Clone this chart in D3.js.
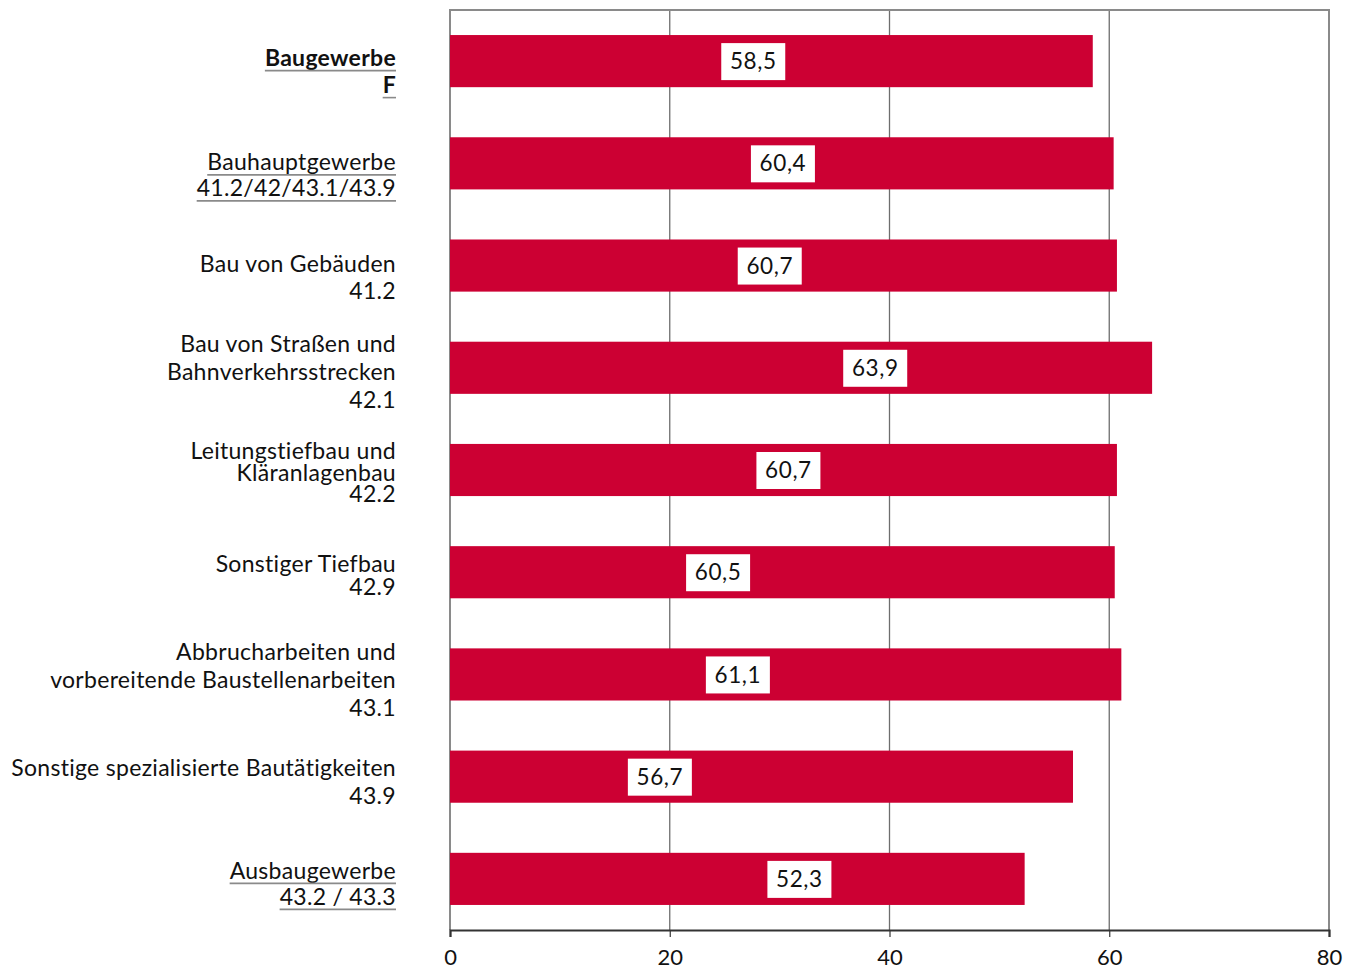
<!DOCTYPE html>
<html><head><meta charset="utf-8">
<script src="https://cdn.jsdelivr.net/npm/d3@7"></script>
<style>body{margin:0;background:#fff}svg text{font-family:Lato, "Noto Sans", sans-serif;}</style>
</head><body><svg id="c" width="1356" height="971"></svg>
<script>
// ---- data ----
const categories = [
  ["Baugewerbe", "F"],
  ["Bauhauptgewerbe", "41.2/42/43.1/43.9"],
  ["Bau von Gebäuden", "41.2"],
  ["Bau von Straßen und", "Bahnverkehrsstrecken", "42.1"],
  ["Leitungstiefbau und", "Kläranlagenbau", "42.2"],
  ["Sonstiger Tiefbau", "42.9"],
  ["Abbrucharbeiten und", "vorbereitende Baustellenarbeiten", "43.1"],
  ["Sonstige spezialisierte Bautätigkeiten", "43.9"],
  ["Ausbaugewerbe", "43.2 / 43.3"]
];
const values = [58.5, 60.4, 60.7, 63.9, 60.7, 60.5, 61.1, 56.7, 52.3];
const valueLabels = ["58,5", "60,4", "60,7", "63,9", "60,7", "60,5", "61,1", "56,7", "52,3"];
// where the value boxes sit along the bar, in axis units (as in the original)
const labelAt = [27.6, 30.3, 29.1, 38.7, 30.8, 24.4, 26.2, 19.1, 31.8];
const xTicks = [0, 20, 40, 60, 80];

// ---- layout / style ----
const L = 450, R = 1329, T = 10, B = 930;
const styleCfg = [
  {bold:true, underline:true, lh:27, off:-3},
  {underline:true, lh:26, off:-1},
  {lh:27, off:-2},
  {lh:28, off:-24},
  {lh:21.5, off:-19},
  {lh:23, off:-8},
  {lh:28, off:-22},
  {lh:28, off:-9},
  {underline:true, lh:26, off:-8}
];
const fontStack = "Lato, 'Noto Sans', sans-serif";

const svg = d3.select("#c");
const x = d3.scaleLinear().domain([0, 80]).range([L, R]);
const y = d3.scaleBand().domain(d3.range(categories.length)).range([T, B]).paddingInner(0.49).paddingOuter(0.245);

// gridlines
svg.append("g").selectAll("line").data(xTicks.slice(1, -1)).join("line")
  .attr("x1", d => x(d)).attr("x2", d => x(d)).attr("y1", T).attr("y2", B)
  .attr("stroke", "#6e6e6e").attr("stroke-width", 1.3);

// frame
svg.append("path").attr("d", `M${L},${B}V${T}H${R}V${B}`)
  .attr("fill", "none").attr("stroke", "#8a8a8a").attr("stroke-width", 2);

// bars
svg.append("g").selectAll("rect").data(values).join("rect")
  .attr("x", x(0)).attr("y", (d, i) => y(i))
  .attr("width", d => x(d) - x(0)).attr("height", y.bandwidth())
  .attr("fill", "#cc0033");

// value labels
const vl = svg.append("g").selectAll("g").data(values).join("g")
  .attr("transform", (d, i) => `translate(${x(labelAt[i])},${y(i) + y.bandwidth() / 2})`);
vl.append("rect").attr("x", -32).attr("y", -18).attr("width", 64).attr("height", 37).attr("fill", "#fff");
vl.append("text").attr("text-anchor", "middle").attr("dy", "0.36em")
  .attr("font-size", 22.5).attr("letter-spacing", 0.6).attr("fill", "#111").text((d, i) => valueLabels[i]);

// x axis
const ax = svg.append("g").attr("transform", `translate(0,${B})`)
  .call(d3.axisBottom(x).tickValues(xTicks).tickSize(7).tickPadding(12).tickFormat(d3.format("d")));
ax.select(".domain").attr("stroke", "#333").attr("stroke-width", 2.2);
ax.selectAll(".tick line").attr("stroke", "#333").attr("stroke-width", 1.2);
ax.selectAll(".tick text").attr("font-size", 22).attr("fill", "#111")
  .style("font-family", fontStack);

// category labels
categories.forEach((lines, i) => {
  const cfg = styleCfg[i];
  const cy = y(i) + y.bandwidth() / 2 + cfg.off;
  const g = svg.append("g");
  lines.forEach((t, k) => {
    const ty = cy + k * cfg.lh;
    const tx = g.append("text").attr("x", 396).attr("y", ty).attr("dy", "0.35em")
      .attr("text-anchor", "end").attr("font-size", 23).attr("letter-spacing", 0.3).attr("fill", "#111")
      .attr("font-weight", cfg.bold ? 700 : 400).text(t);
    if (cfg.underline) {
      const w = tx.node().getComputedTextLength();
      g.append("line").attr("x1", 396 - w).attr("x2", 396).attr("y1", ty + 12.5).attr("y2", ty + 12.5)
        .attr("stroke", "#8a8a8a").attr("stroke-width", 1.6);
    }
  });
});
</script></body></html>
